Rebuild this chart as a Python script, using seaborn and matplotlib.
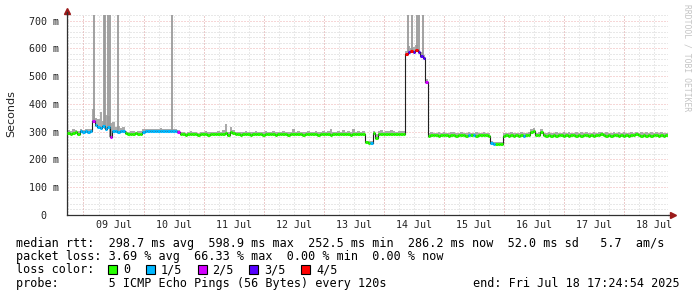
import numpy as np
import pandas as pd
import matplotlib
matplotlib.use("Agg")
import matplotlib.pyplot as plt
import matplotlib.dates as mdates
from matplotlib.patches import Rectangle
import seaborn as sns

# ---------------- data ----------------
START = "2025-07-08 17:24:54"
END = "2025-07-18 17:24:54"

# hourly median rtt (ms)
median_ms = [
    294, 293, 295, 298, 292,
    301, 300, 302, 300, 301,
    338, 325, 318, 312, 320, 308, 316, 281, 302, 304, 300, 303, 301,
    294, 293, 292, 293, 294, 292, 293,
    300, 302, 303, 301, 302, 304, 303, 302, 301, 303, 302, 304, 303, 301,
    299,
    291, 290, 289, 291, 290, 292, 290, 289, 290, 291, 290, 289, 291, 290, 290,
    291, 290, 292, 296, 289, 300, 294, 291, 290, 289,
    290, 291, 290, 289, 290, 290, 291, 290, 289, 290, 291, 290, 290, 289, 291, 290, 290, 291, 289, 290,
    290, 291, 290, 290, 289, 291, 290, 290, 291, 290, 289, 290, 291, 290, 290, 289, 291, 290, 291, 290,
    290, 291, 290, 289, 291, 290, 290, 291, 290,
    262, 258, 260, 296, 278,
    291, 292, 291, 290, 291, 292, 291, 290, 291, 292, 291,
    578, 586, 592, 588, 594, 585, 572, 566, 478,
    286, 287, 288, 287, 286, 287, 287, 288, 286, 287, 287, 286, 288, 287, 287, 286, 287, 288, 287, 286, 287, 287, 288, 287, 286,
    258, 255, 255, 256, 255,
    285, 287, 286, 287, 286, 287, 286, 287, 286, 287, 288, 298, 302, 288, 287, 300, 287, 286, 287, 286,
    287, 286, 287, 287, 286, 287, 286, 287, 287, 286, 287, 286, 287, 288, 286, 287, 286, 287, 287, 293,
    287, 286, 287, 286, 287, 287, 286, 287, 286, 287, 286, 287, 287, 292, 287, 286, 287, 286, 287, 286,
    287, 289, 286, 287, 286, 287, 286,
]

# hourly maximum of the smoke (ms)
smoke_hi_ms = [
    305, 302, 308, 306, 304,
    309, 306, 311, 308, 310,
    380, 350, 345, 372, 340, 360, 355, 330, 335, 318, 320, 312, 315,
    302, 300, 303, 301, 300, 302, 301,
    309, 310, 308, 311, 309, 310, 308, 312, 309, 310, 311, 308, 310, 309,
    306,
    298, 300, 297, 299, 301, 298, 300, 297, 299, 298, 301, 299, 298, 300, 299,
    302, 299, 305, 328, 300, 315, 306, 300, 298, 299,
    299, 301, 298, 300, 299, 302, 298, 300, 299, 301, 298, 300, 302, 299, 300, 298, 301, 299, 300, 298,
    310, 299, 301, 298, 300, 299, 302, 300, 298, 301, 300, 299, 301, 298, 302, 308, 300, 299, 301, 300,
    305, 299, 301, 300, 310, 299, 301, 300, 302,
    268, 265, 268, 302, 290,
    302, 305, 300, 303, 301, 306, 302, 300, 304, 301, 303,
    590, 610, 600, 605, 612, 598, 585, 575, 490,
    296, 298, 295, 297, 299, 296, 298, 297, 295, 299, 298, 296, 297, 298, 296, 297, 299, 297, 296, 298, 297, 295, 298, 296, 297,
    266, 262, 263, 264, 262,
    294, 297, 296, 298, 295, 297, 296, 298, 297, 296, 299, 310, 312, 297, 298, 310, 296, 297, 298, 296,
    297, 298, 296, 297, 299, 296, 298, 297, 296, 298, 297, 299, 296, 298, 297, 296, 298, 297, 299, 300,
    296, 298, 297, 296, 298, 297, 299, 296, 298, 297, 296, 298, 297, 300, 296, 298, 297, 299, 296, 298,
    297, 298, 296, 298, 297, 296, 297,
]

# hourly loss class (number of lost pings out of 5)
loss_class = (
    [0] * 5 + [1] * 5 + [2, 1, 1, 1, 1, 1, 1, 2, 1, 1, 1, 1, 1] + [0] * 7 + [1] * 14 + [2]
    + [0] * 74
    + [0, 0, 1, 0, 0]
    + [0] * 11
    + [4, 3, 4, 3, 4, 3, 3, 3, 2]
    + [0] * 16 + [1, 0, 1] + [0] * 6
    + [1, 1, 0, 0, 0]
    + [0] * 8 + [1] + [0] * 58
)

# tall outliers in the smoke (hours after start, ms)
spike_hours = [10.6, 14.6, 15.1, 16.2, 17.05, 20.3, 42.1, 136.3, 137.9, 139.7, 140.7, 142.3]
spike_ms = [760, 760, 760, 760, 760, 760, 760, 760, 760, 760, 760, 760]

loss_labels = ["0", "1/5", "2/5", "3/5", "4/5"]
loss_colors = ["#26ff00", "#00b8ff", "#d400ff", "#5500ff", "#ff0000"]

y_ticks = [0, 100, 200, 300, 400, 500, 600, 700]
y_tick_labels = ["0  ", "100 m", "200 m", "300 m", "400 m", "500 m", "600 m", "700 m"]

line_rtt = "median rtt:  298.7 ms avg  598.9 ms max  252.5 ms min  286.2 ms now  52.0 ms sd   5.7  am/s"
line_loss = "packet loss: 3.69 % avg  66.33 % max  0.00 % min  0.00 % now"
line_color = "loss color:"
line_probe = "probe:       5 ICMP Echo Pings (56 Bytes) every 120s"
line_end = "end: Fri Jul 18 17:24:54 2025"
watermark = "RRDTOOL / TOBI OETIKER"
ylabel = "Seconds"

# ---------------- drawing ----------------
sns.set_style("white")
plt.rcParams["font.family"] = ["DejaVu Sans Mono", "DejaVu Sans"]

W, H = 697, 297
fig = plt.figure(figsize=(W / 100, H / 100), dpi=100)
fig.patch.set_facecolor("white")
ax = fig.add_axes([67 / W, (H - 215) / H, (668 - 67) / W, (215 - 15) / H])
ax.set_facecolor("white")

t0 = mdates.date2num(pd.Timestamp(START))
t_end = mdates.date2num(pd.Timestamp(END))
n = len(median_ms)
t = t0 + np.arange(n) / 24.0
t_next = t + 1 / 24.0
med = np.array(median_ms, dtype=float)
hi = np.array(smoke_hi_ms, dtype=float)
loss = np.array(loss_class)

ax.set_xlim(t0, t_end)
ax.set_ylim(0, 720)

# grid
ax.xaxis_date()
ax.xaxis.set_major_locator(mdates.HourLocator(byhour=[12]))
ax.xaxis.set_major_formatter(mdates.DateFormatter("%d %b"))
ax.xaxis.set_minor_locator(mdates.HourLocator(byhour=[0, 6, 18]))
ax.set_yticks(y_ticks)
ax.set_yticklabels(y_tick_labels)
ax.set_yticks(np.arange(0, 721, 20), minor=True)

gray_grid = dict(color="#d2d2d2", linestyle=(0, (1, 2)), linewidth=0.72)
red_grid = dict(color="#eeb0b0", linestyle=(0, (1, 2)), linewidth=0.72)
ax.xaxis.grid(True, which="both", **gray_grid)
ax.yaxis.grid(True, which="minor", **gray_grid)
ax.yaxis.grid(True, which="major", **red_grid)
for d in pd.date_range("2025-07-09", "2025-07-18", freq="D"):
    ax.axvline(mdates.date2num(d), zorder=0.6, **red_grid)
ax.set_axisbelow(True)

# smoke
ax.fill_between(t, med, hi, step="post", color="#aaaaaa", linewidth=0, zorder=2)
spike_t = t0 + np.array(spike_hours) / 24.0
spike_base = med[np.array(spike_hours).astype(int)]
ax.vlines(spike_t, spike_base, spike_ms, color="#9a9a9a", linewidth=1.3, zorder=2)

# median line (dark) and loss coloured segments
sns.lineplot(x=t, y=med, drawstyle="steps-post", color="#202020", linewidth=0.8,
             ax=ax, estimator=None, zorder=3)
for k, col in enumerate(loss_colors):
    m = loss == k
    if m.any():
        ax.hlines(med[m], t[m], t_next[m], color=col, linewidth=2.2, zorder=4)

# spines and ticks
for s in ["top", "right"]:
    ax.spines[s].set_visible(False)
for s in ["left", "bottom"]:
    ax.spines[s].set_color("#303030")
    ax.spines[s].set_linewidth(0.9)
ax.tick_params(axis="y", which="major", length=2, width=0.8, color="#303030",
               direction="out", pad=3.6, labelsize=7.2, labelcolor="#222222")
ax.tick_params(axis="y", which="minor", length=0)
ax.tick_params(axis="x", which="both", length=0, pad=3.8, labelsize=7.2, labelcolor="#222222")
ax.set_xlabel("")
ax.set_ylabel("")

# arrows
arrow_col = "#9b1a1a"
ax.plot([1.0, 1.0 + 3 / 601], [0, 0], transform=ax.transAxes, color="#303030",
        linewidth=0.9, clip_on=False)
ax.plot([1.0 + 5 / 601], [0], marker=">", markersize=4, color=arrow_col,
        transform=ax.transAxes, clip_on=False)
ax.plot([0], [1.0 + 4 / 200], marker="^", markersize=4, color=arrow_col,
        transform=ax.transAxes, clip_on=False)
ax.plot([0, 0], [1.0, 1.0 + 3 / 200], transform=ax.transAxes, color="#303030",
        linewidth=0.9, clip_on=False)

# labels
fig.text(11 / W, 1 - 114 / H, ylabel, rotation=90, ha="center", va="center",
         fontsize=8, color="#222222", family=["DejaVu Sans"])
fig.text(687 / W, 1 - 4 / H, watermark, rotation=270, ha="center", va="top",
         fontsize=5.8, color="#c4c4c4")

fs = 8.5
fig.text(16 / W, 1 - 246.7 / H, line_rtt, ha="left", va="baseline", fontsize=fs, color="black")
fig.text(16 / W, 1 - 260.0 / H, line_loss, ha="left", va="baseline", fontsize=fs, color="black")
fig.text(16 / W, 1 - 273.3 / H, line_color, ha="left", va="baseline", fontsize=fs, color="black")
fig.text(16 / W, 1 - 287.0 / H, line_probe, ha="left", va="baseline", fontsize=fs, color="black")
fig.text(680 / W, 1 - 287.0 / H, line_end, ha="right", va="baseline", fontsize=fs, color="black")

x = 108.3
char_w = 7.1
for lab, col in zip(loss_labels, loss_colors):
    fig.patches.append(Rectangle((x / W, 1 - 273.5 / H), 9 / W, 9 / H,
                                 transform=fig.transFigure, facecolor=col,
                                 edgecolor="black", linewidth=0.8))
    fig.text((x + 15) / W, 1 - 273.3 / H, lab, ha="left", va="baseline", fontsize=fs, color="black")
    x = x + 15 + len(lab) * char_w + 15.4

fig.savefig("out.png", dpi=100, facecolor="white")
